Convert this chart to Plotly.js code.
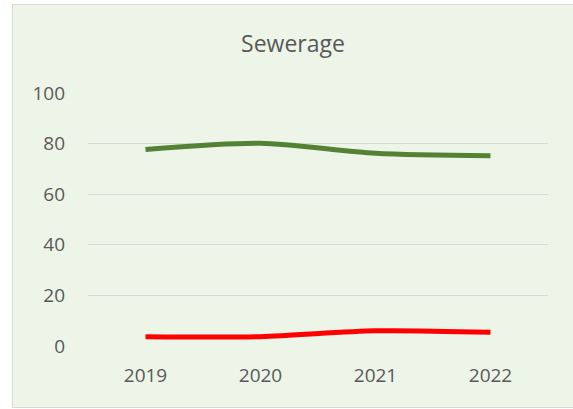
<!DOCTYPE html>
<html>
<head>
<meta charset="utf-8">
<script src="https://cdn.plot.ly/plotly-3.0.1.min.js"></script>
<style>
  html, body { margin: 0; padding: 0; background: #ffffff; width: 573px; height: 409px; overflow: hidden; }
  #frame {
    position: absolute; left: 12px; top: 4px;
    width: 560px; height: 402px;
    border: 1px solid #d9d9d9; border-right: none;
    background: #edf5e8;
  }
  #chart { width: 560px; height: 402px; }
</style>
</head>
<body>
<div id="frame"><div id="chart"></div></div>
<script>
// Sewerage indicators by year
const years = ['2019', '2020', '2021', '2022'];
const greenSeries = [77.7, 80.1, 76.2, 75.2];
const redSeries = [3.7, 3.7, 6.0, 5.4];
const yTicks = [0, 20, 40, 60, 80, 100];

const traces = [
  {
    x: years, y: greenSeries, type: 'scatter', mode: 'lines',
    line: { color: '#548235', width: 5, shape: 'spline', smoothing: 0.8 },
    hoverinfo: 'skip'
  },
  {
    x: years, y: redSeries, type: 'scatter', mode: 'lines',
    line: { color: '#ff0000', width: 5, shape: 'spline', smoothing: 0.8 },
    hoverinfo: 'skip'
  }
];

const layout = {
  width: 560, height: 402,
  margin: { l: 75, r: 25, t: 88, b: 61 },
  paper_bgcolor: '#edf5e8',
  plot_bgcolor: '#edf5e8',
  showlegend: false,
  font: { family: 'Open Sans, sans-serif', color: '#595959', size: 18 },
  title: {
    text: 'Sewerage',
    font: { family: 'Open Sans, sans-serif', size: 23, color: '#595959' },
    xref: 'container', x: 0.5, xanchor: 'center',
    yref: 'container', y: 0.903, yanchor: 'middle'
  },
  xaxis: {
    type: 'category',
    range: [-0.5, 3.5],
    showgrid: false, zeroline: false, showline: false,
    ticks: '', ticklabelstandoff: 16,
    tickfont: { size: 19, color: '#595959' }
  },
  yaxis: {
    range: [0, 100],
    tickvals: yTicks,
    showgrid: true, gridcolor: '#d9d9d9', gridwidth: 1,
    zeroline: false, showline: false,
    ticks: '', ticklabelstandoff: 22,
    tickfont: { size: 19, color: '#595959' }
  }
};

Plotly.newPlot('chart', traces, layout, { staticPlot: true, displayModeBar: false });
</script>
</body>
</html>
